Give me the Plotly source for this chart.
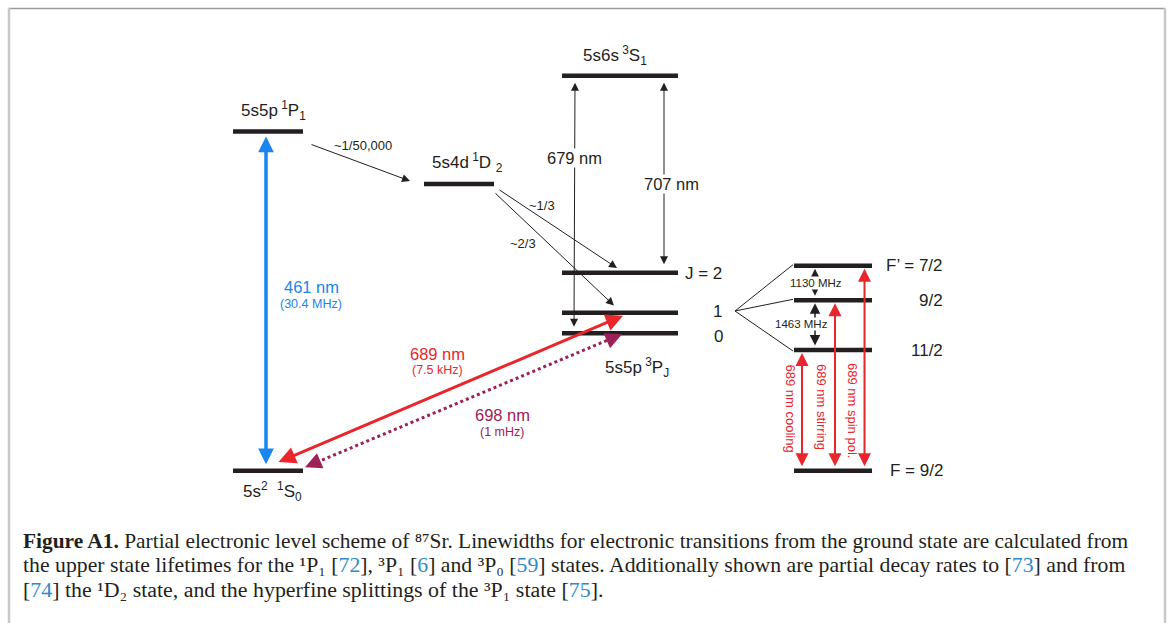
import plotly.graph_objects as go

# ---------------- data ----------------
# electronic levels (vertical position in figure pixels ~ energy axis of the sketch)
level_keys = ["1S0", "1P1", "1D2", "3S1", "3P2", "3P1", "3P0"]
level_labels = ["5s<sup>2</sup>  <sup>1</sup>S<sub>0</sub>",
                "5s5p<sup> 1</sup>P<sub>1</sub>",
                "5s4d<sup> 1</sup>D <sub>2</sub>",
                "5s6s<sup> 3</sup>S<sub>1</sub>",
                "J = 2", "1", "0"]
level_y = [470.7, 131.5, 184.0, 75.7, 272.7, 312.7, 333.3]
level_x0 = [233, 233, 424, 562, 562, 562, 562]
level_x1 = [303, 303, 494, 678, 678, 678, 678]

# hyperfine levels of 3P1 and ground state
hfs_labels = ["F’ = 7/2", "9/2", "11/2", "F = 9/2"]
hfs_y = [265.7, 300.3, 350.0, 470.7]
hfs_x0, hfs_x1 = 794, 872

wavelengths = ["461 nm", "689 nm", "698 nm", "679 nm", "707 nm"]
linewidths = ["(30.4 MHz)", "(7.5 kHz)", "(1 mHz)"]
branching = ["~1/50,000", "~1/3", "~2/3"]
hfs_splittings = ["1130 MHz", "1463 MHz"]
hfs_beams = ["689 nm cooling", "689 nm stirring", "689 nm spin pol."]

BL = "#2e8bc9"
def ref(n):
    return "[<span style='color:%s'>%s</span>]" % (BL, n)

caption_lines = [
    "<b>Figure A1.</b> Partial electronic level scheme of ⁸⁷Sr. Linewidths for electronic transitions from the ground state are calculated from",
    "the upper state lifetimes for the ¹P₁ " + ref(72) + ", ³P₁ " + ref(6)
    + " and ³P₀ " + ref(59) + " states. Additionally shown are partial decay rates to " + ref(73) + " and from",
    ref(74) + " the ¹D₂ state, and the hyperfine splittings of the ³P₁ state " + ref(75) + ".",
]
caption_sizes = [21.4, 21.75, 21.9]

# ---------------- styles ----------------
W, H = 1168, 623
SANS = "Liberation Sans, Arial, sans-serif"
SERIF = "Liberation Serif, Times New Roman, serif"
BLACK = "#231f20"
BLUE = "#1a84f0"
RED = "#e8262b"
PURPLE = "#9b2157"

L = dict(zip(level_keys, level_y))

fig = go.Figure()

# frame
fig.add_shape(type="line", x0=8, x1=1165, y0=8.5, y1=8.5, line=dict(color="#9a9a9a", width=1.5))
fig.add_shape(type="line", x0=9, x1=9, y0=8, y1=H, line=dict(color="#c8c8c8", width=2.5))
fig.add_shape(type="line", x0=1165, x1=1165, y0=8, y1=H, line=dict(color="#c8c8c8", width=2.5))

# dotted 698 nm clock transition (line part)
fig.add_trace(go.Scatter(x=[311, 612], y=[L["1S0"] - 6, L["3P0"] + 5], mode="lines",
                         line=dict(color=PURPLE, width=3, dash="dot"), hoverinfo="skip", showlegend=False))

# levels
for x0, x1, y in zip(level_x0, level_x1, level_y):
    fig.add_shape(type="line", x0=x0, x1=x1, y0=y, y1=y, line=dict(color=BLACK, width=4.5), layer="above")
for y in hfs_y:
    fig.add_shape(type="line", x0=hfs_x0, x1=hfs_x1, y0=y, y1=y, line=dict(color=BLACK, width=4.5), layer="above")

# fan lines from 3P1 to hyperfine levels
for y in hfs_y[:3]:
    fig.add_shape(type="line", x0=735, y0=311, x1=hfs_x0 - 1, y1=y + (1 if y > 311 else -1 if y < 305 else 0),
                  line=dict(color=BLACK, width=1))


def arrow(tip, tail, color, width, size, both=False, head=2):
    fig.add_annotation(x=tip[0], y=tip[1], ax=tail[0], ay=tail[1], xref="x", yref="y", axref="x", ayref="y",
                       text="", showarrow=True, arrowhead=head, arrowsize=size, arrowwidth=width,
                       arrowcolor=color, arrowside="end+start" if both else "end",
                       startarrowhead=head, startarrowsize=size, standoff=0, startstandoff=0)


def text(x, y, t, size, color=BLACK, xanchor="center", yanchor="middle", bg=None, angle=0, family=SANS):
    fig.add_annotation(x=x, y=y, xref="x", yref="y", text=t, showarrow=False, xanchor=xanchor, yanchor=yanchor,
                       font=dict(family=family, size=size, color=color), bgcolor=bg, textangle=angle,
                       borderpad=0)

# 461 nm
arrow((266, L["1P1"] + 5), (266, L["1S0"] - 5), BLUE, 3.5, 0.9, both=True)
# 689 nm
arrow((623, L["3P1"] + 3), (277, L["1S0"] - 8), RED, 3, 1.15, both=True)
# 698 nm heads
arrow((305, L["1S0"] - 3.5), (318, L["1S0"] - 9), PURPLE, 3, 1.1)
arrow((622, L["3P0"] + 1), (609, L["3P0"] + 6.5), PURPLE, 3, 1.1)
# 679 nm and 707 nm
arrow((575, L["3S1"] + 7), (574, L["3P0"] - 5), BLACK, 1, 1.6, both=True)
arrow((664, L["3S1"] + 7), (664, L["3P2"] - 7), BLACK, 1, 1.6, both=True)
# branching
arrow((410, 181), (310, 144), BLACK, 1, 1.6)
arrow((617, 268), (498, 189), BLACK, 1, 1.6)
arrow((614, 305.5), (494, 192), BLACK, 1, 1.6)
# hyperfine splittings
arrow((815, hfs_y[0] + 3), (815, hfs_y[1] - 3), BLACK, 1.5, 1.4, both=True)
arrow((815, hfs_y[1] + 3), (815, hfs_y[2] - 3), BLACK, 1.5, 1.4, both=True)
# hyperfine 689 nm beams
for xb, ys in zip([802, 835, 864.5], hfs_y[2::-1]):
    arrow((xb, ys + 3), (xb, hfs_y[3] - 3), RED, 2, 1.3, both=True)

# level labels
text(240, 124, level_labels[1], 17, xanchor="left", yanchor="bottom")
text(431, 176, level_labels[2], 17, xanchor="left", yanchor="bottom")
text(582, 69, level_labels[3], 17, xanchor="left", yanchor="bottom")
text(604, 381, "5s5p<sup> 3</sup>P<sub>J</sub>", 17, xanchor="left", yanchor="bottom")
text(242, 505, level_labels[0], 17, xanchor="left", yanchor="bottom")
text(684, 273, level_labels[4], 17, xanchor="left")
text(717, 311, level_labels[5], 17)
text(718, 336.5, level_labels[6], 17)
for lab, y in zip(hfs_labels, hfs_y):
    text(944, y, lab, 17, xanchor="right")

# transition labels
text(311, 287, wavelengths[0], 16.5, BLUE)
text(311, 303.5, linewidths[0], 12.5, BLUE)
text(437, 353.5, wavelengths[1], 16.5, RED)
text(437, 369.5, linewidths[1], 12.5, RED)
text(502, 415, wavelengths[2], 16.5, PURPLE)
text(502, 432, linewidths[2], 12.5, PURPLE)
text(574, 158, wavelengths[3], 16.5, bg="white")
text(671, 184, wavelengths[4], 16.5, bg="white")
text(363, 145, branching[0], 13)
text(542, 205.5, branching[1], 13)
text(523, 243.5, branching[2], 13)
text(815.5, 283, hfs_splittings[0], 11.5, bg="white")
text(801, 324, hfs_splittings[1], 11.5, bg="white")
for xb, t, yc in zip([790.5, 822, 853], hfs_beams, [408, 407, 410]):
    text(xb, yc, t, 13, RED, angle=90)

# caption
for i, (line, fs) in enumerate(zip(caption_lines, caption_sizes)):
    text(22, 541 + 24 * i, line, fs, "#231f20", xanchor="left", family=SERIF)

fig.update_layout(width=W, height=H, margin=dict(l=0, r=0, t=0, b=0),
                  paper_bgcolor="white", plot_bgcolor="white", showlegend=False,
                  xaxis=dict(range=[0, W], visible=False, fixedrange=True),
                  yaxis=dict(range=[H, 0], visible=False, fixedrange=True))

fig.write_html("out.html")
